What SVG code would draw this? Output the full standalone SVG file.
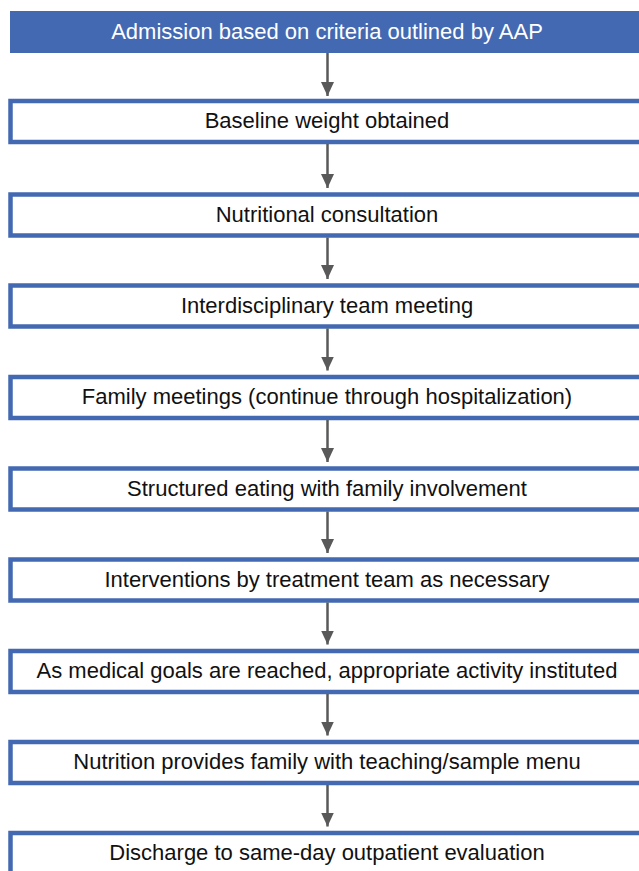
<svg xmlns="http://www.w3.org/2000/svg" width="639" height="871" viewBox="0 0 639 871">
<style>
.box{fill:#ffffff;stroke:#4369B2;stroke-width:4.5}
.top{fill:#4369B2}
.t{font-family:"Liberation Sans",Arial,sans-serif;font-size:22px;fill:#111111;text-anchor:middle}
.tw{fill:#ffffff}
.c{stroke:#595959;stroke-width:2.5;fill:none;marker-end:url(#ah)}
</style>
<defs>
<marker id="ah" viewBox="0 0 14 13" refX="14" refY="6.5" markerWidth="14" markerHeight="13" markerUnits="userSpaceOnUse" orient="auto">
<path d="M0,0 L14,6.5 L0,13 Z" fill="#595959"/>
</marker>
</defs>
<g id="n0"><rect class="top" x="10" y="11" width="640" height="42"/><text class="t tw" x="327" y="38.5">Admission based on criteria outlined by AAP</text></g>
<g id="n1"><rect class="box" x="10.5" y="101" width="640" height="41"/><text class="t" x="327" y="128">Baseline weight obtained</text></g>
<g id="n2"><rect class="box" x="10.5" y="194.5" width="640" height="41"/><text class="t" x="327" y="221.5">Nutritional consultation</text></g>
<g id="n3"><rect class="box" x="10.5" y="285.5" width="640" height="41"/><text class="t" x="327" y="312.5">Interdisciplinary team meeting</text></g>
<g id="n4"><rect class="box" x="10.5" y="377" width="640" height="41"/><text class="t" x="327" y="404">Family meetings (continue through hospitalization)</text></g>
<g id="n5"><rect class="box" x="10.5" y="468.5" width="640" height="41"/><text class="t" x="327" y="495.5">Structured eating with family involvement</text></g>
<g id="n6"><rect class="box" x="10.5" y="559.5" width="640" height="41"/><text class="t" x="327" y="586.5">Interventions by treatment team as necessary</text></g>
<g id="n7"><rect class="box" x="10.5" y="651" width="640" height="41"/><text class="t" x="327" y="678">As medical goals are reached, appropriate activity instituted</text></g>
<g id="n8"><rect class="box" x="10.5" y="742" width="640" height="41"/><text class="t" x="327" y="769">Nutrition provides family with teaching/sample menu</text></g>
<g id="n9"><rect class="box" x="10.5" y="833" width="640" height="41"/><text class="t" x="327" y="860">Discharge to same-day outpatient evaluation</text></g>
<g id="connectors">
<line class="c" x1="327.5" y1="53" x2="327.5" y2="96"/>
<line class="c" x1="327.5" y1="144" x2="327.5" y2="188"/>
<line class="c" x1="327.5" y1="237.5" x2="327.5" y2="279"/>
<line class="c" x1="327.5" y1="328.5" x2="327.5" y2="370.5"/>
<line class="c" x1="327.5" y1="420" x2="327.5" y2="462"/>
<line class="c" x1="327.5" y1="511.5" x2="327.5" y2="553"/>
<line class="c" x1="327.5" y1="602.5" x2="327.5" y2="644.5"/>
<line class="c" x1="327.5" y1="694" x2="327.5" y2="735.5"/>
<line class="c" x1="327.5" y1="785" x2="327.5" y2="826.5"/>
</g>
</svg>
